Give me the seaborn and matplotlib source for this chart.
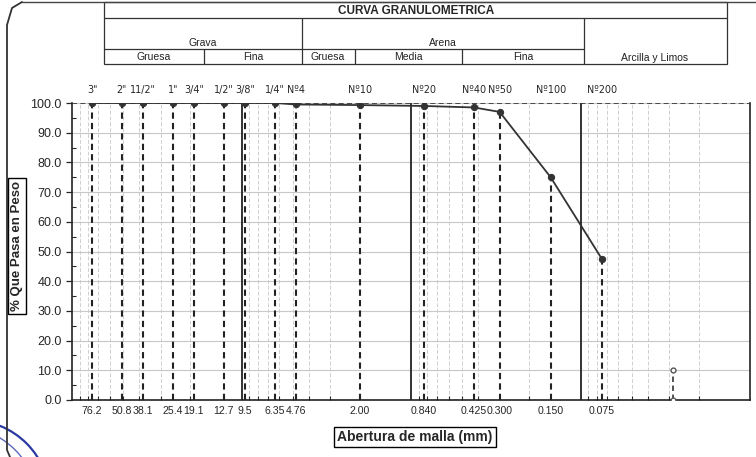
import numpy as np
import pandas as pd
import matplotlib.pyplot as plt
import matplotlib.ticker as mticker
from matplotlib.patches import Rectangle, Arc
from matplotlib.lines import Line2D
import seaborn as sns

sns.set_style("white")
plt.rcParams["font.family"] = ["Liberation Sans Narrow", "Liberation Sans", "DejaVu Sans"]

# datos del ensayo
tamices = ['3"', '2"', '11/2"', '1"', '3/4"', '1/2"', '3/8"', '1/4"',
           'Nº4', 'Nº10', 'Nº20', 'Nº40', 'Nº50', 'Nº100', 'Nº200']
abertura = [76.2, 50.8, 38.1, 25.4, 19.1, 12.7, 9.5, 6.35, 4.76,
            2.00, 0.840, 0.425, 0.300, 0.150, 0.075]
etiquetas = ["76.2", "50.8", "38.1", "25.4", "19.1", "12.7", "9.5", "6.35", "4.76",
             "2.00", "0.840", "0.425", "0.300", "0.150", "0.075"]
pasa = [100.0, 100.0, 100.0, 100.0, 100.0, 100.0, 100.0, 100.0, 99.5,
        99.3, 99.0, 98.5, 97.0, 75.0, 47.6]
d10_x = [0.0283, 0.0283]
d10_y = [0.0, 10.0]

df = pd.DataFrame({"abertura": abertura, "pasa": pasa})

W, H = 756, 457
fig = plt.figure(figsize=(W / 100, H / 100), dpi=100)
ax = fig.add_axes([72 / W, 1 - 400 / H, (750 - 72) / W, (400 - 103) / H])


def fx(x):
    return x / W


def fy(y):
    return 1 - y / H


ax.set_xscale("log")
ax.set_xlim(100, 0.01)
ax.set_ylim(0, 100)

# rejilla
ax.xaxis.set_minor_locator(mticker.LogLocator(base=10, subs=np.arange(2, 10)))
ax.grid(which="minor", axis="x", color="#cfcfcf", lw=0.7, ls=(0, (4, 2)))
ax.yaxis.set_major_locator(mticker.MultipleLocator(10))
ax.yaxis.set_minor_locator(mticker.MultipleLocator(5))
ax.grid(which="major", axis="y", color="#c8c8c8", lw=0.8)
for d in [10, 1, 0.1]:
    ax.axvline(d, color="#222222", lw=1.3, zorder=2)
ax.axhline(100, color="#333333", lw=1.2, ls=(0, (3, 2)), zorder=3)

# lineas verticales de tamices
ax.vlines(abertura, 0, pasa, colors="#222222", linestyles=(0, (3, 2)), lw=1.5, zorder=3)

sns.lineplot(data=df, x="abertura", y="pasa", ax=ax, color="#333333", lw=1.3,
             marker="o", markersize=4.5, markeredgecolor="#333333", sort=False, zorder=4)
ax.plot(d10_x, d10_y, color="#444444", ls=(0, (3, 2)), lw=1.3, marker="o",
        markersize=3.5, mfc="white", mec="#555555", zorder=4)

ax.set_xticks(abertura)
ax.set_xticklabels(etiquetas, fontsize=7.6)
ax.tick_params(axis="x", which="major", length=0, pad=4)
ax.tick_params(axis="x", which="minor", direction="in", length=3, width=0.8, bottom=True)
ax.xaxis.set_minor_formatter(mticker.NullFormatter())
ax.yaxis.set_major_formatter(mticker.FormatStrFormatter("%.1f"))
ax.tick_params(axis="y", which="major", direction="out", length=4, width=0.9, labelsize=9,
               left=True)
ax.tick_params(axis="y", which="minor", direction="in", length=3, width=0.8, left=True)
for lab in ax.get_yticklabels():
    lab.set_family(["Liberation Sans", "DejaVu Sans"])

ax.spines["top"].set_visible(False)
for s in ["left", "bottom", "right"]:
    ax.spines[s].set_color("#222222")
    ax.spines[s].set_linewidth(1.2)

sec = ax.secondary_xaxis("top")
sec.set_xticks(abertura)
sec.set_xticklabels(tamices, fontsize=6.9, family=["DejaVu Sans"])
sec.tick_params(length=0, pad=6)
sec.xaxis.set_minor_locator(mticker.NullLocator())
sec.spines["top"].set_visible(False)

ax.set_xlabel("")
ax.set_ylabel("")

# etiquetas de ejes en recuadro
fig.text(fx(415), fy(437), "Abertura de malla (mm)", ha="center", va="center",
         fontsize=10, fontweight="bold",
         bbox=dict(boxstyle="square,pad=0.25", fc="white", ec="black", lw=1))
fig.text(fx(17), fy(246), "% Que Pasa en Peso", ha="center", va="center", rotation=90,
         fontsize=9.5, fontweight="bold", family=["Liberation Sans", "DejaVu Sans"],
         bbox=dict(boxstyle="square,pad=0.25", fc="white", ec="black", lw=1))

# encabezado
L, R = 104, 727
lw = 0.9
fig.add_artist(Rectangle((fx(L), fy(64)), fx(R) - fx(L), fy(2) - fy(64),
                         fill=False, ec="#333333", lw=lw))


def linea(x0, y0, x1, y1):
    fig.add_artist(Line2D([fx(x0), fx(x1)], [fy(y0), fy(y1)], color="#333333", lw=lw))


linea(L, 18, R, 18)
linea(L, 49, 584, 49)
for xv in [302, 584]:
    linea(xv, 18, xv, 64)
for xv in [204, 355, 462]:
    linea(xv, 49, xv, 64)

fig.text(fx(416), fy(10.5), "CURVA GRANULOMETRICA", ha="center", va="center",
         fontsize=8.5, fontweight="bold")
hdr = [("Grava", 203, 43), ("Arena", 443, 43), ("Gruesa", 154, 57), ("Fina", 253, 57),
       ("Gruesa", 328, 57), ("Media", 408, 57), ("Fina", 523, 57),
       ("Arcilla y Limos", 655, 58)]
for t, xx, yy in hdr:
    fig.text(fx(xx), fy(yy), t, ha="center", va="center", fontsize=7.5, color="#222222")

# marco del documento escaneado
fig.add_artist(Line2D([fx(22), fx(756)], [fy(1.5), fy(1.5)], color="#444444", lw=1))
fig.add_artist(Line2D([fx(22), fx(12), fx(7), fx(7), fx(10)],
                      [fy(2), fy(8), fy(25), fy(450), fy(457)], color="#333333", lw=1.3))
fig.add_artist(Arc((fx(-30), fy(500)), 2 * 80 / W, 2 * 80 / H, theta1=0, theta2=90,
                   color="#2a3aa0", lw=1.6))
fig.add_artist(Arc((fx(-45), fy(510)), 2 * 85 / W, 2 * 85 / H, theta1=0, theta2=90,
                   color="#5a68c0", lw=1.0))

fig.savefig("out.png", dpi=100)
